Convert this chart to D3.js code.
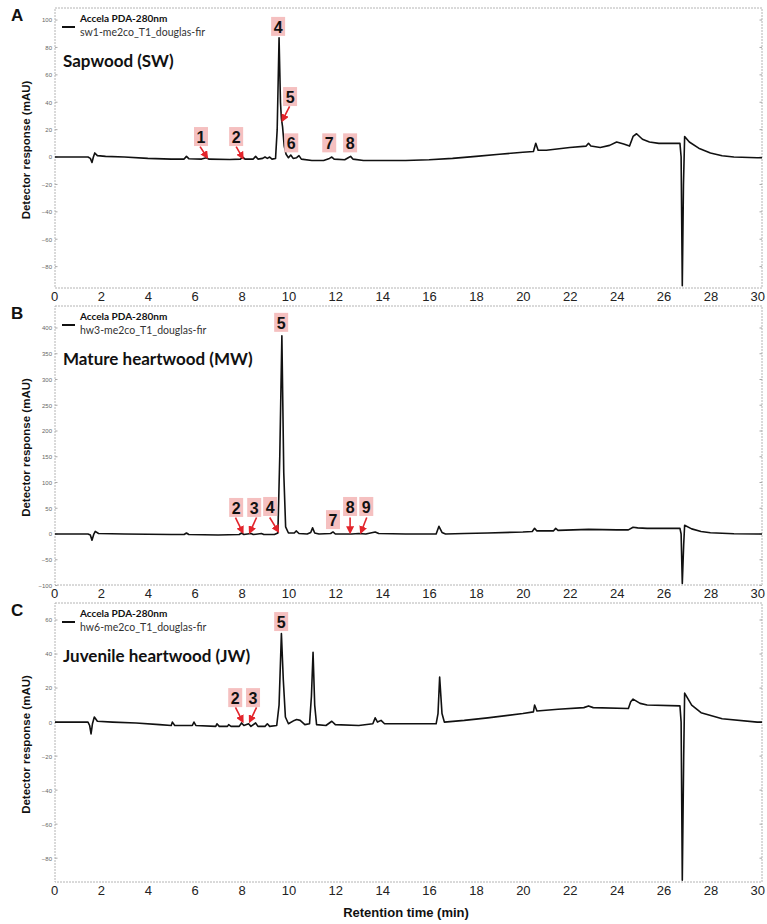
<!DOCTYPE html>
<html>
<head>
<meta charset="utf-8">
<script src="https://cdn.jsdelivr.net/npm/d3@7"></script>
<style>
  body { margin: 0; background: #fff; }
  svg { display: block; }
</style>
</head>
<body>
<div id="chart"></div>
<script>
// chromatogram traces, [retention time (min), response (mAU)]
const traceSW = [[0,0],[1.45,0],[1.55,-1],[1.62,-4],[1.68,0],[1.74,3],[1.85,1],[2.2,0.5],[3,0],[4,-1],[5,-1.5],[5.55,-1.5],[5.65,0.5],[5.75,-1.2],[6.3,-1.5],[6.5,-0.5],[6.6,-1.5],[7.5,-1.8],[7.95,-1.5],[8.05,0],[8.15,-1.5],[8.5,-1.5],[8.6,0.5],[8.7,-1.5],[8.9,-1],[9.0,0],[9.1,-1],[9.2,0],[9.3,-1.5],[9.45,-1],[9.52,20],[9.6,87],[9.66,40],[9.7,28],[9.75,22],[9.82,8],[9.9,2],[10.0,-0.5],[10.1,1.5],[10.2,-1],[10.35,-0.5],[10.45,1],[10.55,-1.5],[11,-2.5],[11.5,-2.5],[11.75,-1],[11.85,0],[11.95,-1.5],[12.4,-2],[12.55,-0.5],[12.65,0.5],[12.75,-1.5],[13.2,-2.5],[14,-2.5],[15,-2.5],[16,-2],[17,-1],[18,0.5],[19,2],[20,3.5],[20.45,4],[20.55,10],[20.65,5],[21,5],[22,7],[22.7,8],[22.8,10],[22.9,8],[23.3,7],[23.7,8.5],[24,11],[24.3,9.5],[24.55,8],[24.7,15],[24.85,17],[25.1,13],[25.4,11],[25.8,10],[26.7,10],[26.75,0],[26.8,-94],[26.85,-20],[26.9,15],[27.1,11],[27.5,6.5],[28,3],[28.5,1],[29,0],[30,-0.5],[30.2,-0.5]];

const traceMW = [[0,0],[1.45,0],[1.55,-2],[1.62,-12],[1.7,0],[1.76,5],[1.9,1],[3,0],[5,-1],[5.55,-1],[5.65,2],[5.75,-1],[7,-2],[7.9,-1],[8.0,2],[8.1,-1],[8.4,1],[8.5,-1],[8.85,1],[8.95,-1],[9.4,-1],[9.55,2],[9.63,150],[9.72,385],[9.8,120],[9.88,14],[10.0,2],[10.25,2],[10.33,6],[10.45,1],[10.8,0],[10.95,3],[11.03,12],[11.12,2],[11.3,0],[11.8,1],[11.9,4],[12,0],[12.7,0],[13,1],[13.3,0],[13.7,4],[13.85,1],[15,0],[16.3,0],[16.42,15],[16.55,3],[16.7,0],[17.5,1],[18.5,2],[20,4],[20.4,5],[20.5,11],[20.6,6],[21.3,6],[21.4,11],[21.5,7],[22.8,9],[24,8],[24.5,8],[24.7,13],[24.9,12],[25.3,11],[26.7,11],[26.75,0],[26.8,-96],[26.86,-20],[26.9,17],[27.2,10],[27.6,5],[28,2.5],[29,0.5],[30,0],[30.2,0]];

const traceJW = [[0,0],[1.45,0],[1.52,-2],[1.58,-7],[1.64,-1],[1.72,3],[1.85,0.5],[2.5,0],[3.5,-0.5],[4.5,-1.5],[5,-2],[5.05,0],[5.15,-2],[5.9,-2],[5.97,0],[6.05,-2],[6.9,-2.5],[6.95,-1],[7.05,-2.5],[7.4,-2.5],[7.45,-1.5],[7.55,-2.5],[7.9,-2.5],[8.0,-0.5],[8.1,-2],[8.3,-1],[8.4,-2.5],[8.6,-0.5],[8.7,-2.5],[9.0,-2.5],[9.1,-1],[9.2,-2.5],[9.5,-2],[9.6,10],[9.7,52],[9.78,25],[9.87,3],[10.0,-1],[10.25,1],[10.35,1.5],[10.5,1],[10.7,-1.5],[10.9,-1],[10.98,15],[11.05,41],[11.12,10],[11.2,-1.5],[11.6,-2],[11.85,0.5],[12.0,-1.5],[13,-2],[13.6,-1],[13.7,2.5],[13.8,0],[13.95,1],[14.1,-1],[15,-1],[16.3,-1],[16.38,5],[16.45,26.5],[16.55,5],[16.65,0],[17.5,1],[18.5,2.5],[20,5],[20.45,6],[20.5,10],[20.6,6.5],[21.5,7.5],[22.6,8.5],[22.8,9.5],[23,8.5],[24.5,8],[24.6,12],[24.7,13.5],[25,11],[25.3,10],[26.7,9.5],[26.75,0],[26.8,-93],[26.86,-20],[26.9,17],[27.2,10],[27.6,5.5],[28.5,2],[30,0],[30.2,0]];

// peak labels: [label, t, response, arrow tail t, tail response, arrow tip t, tip response]
const peaksSW = [["1",6.27,14.6,6.23,7.6,6.52,0],["2",7.77,14.6,7.77,7.6,8.04,-0.5],["4",9.56,95],["5",10.07,43.8,10.05,37,9.75,27],["6",10.12,10],["7",11.74,10],["8",12.63,10]];
const peaksMW = [["2",7.77,50.6,7.74,32,8.04,4],["3",8.54,50.6,8.64,32,8.36,4],["4",9.22,52.5,9.2,32,9.55,6],["5",9.69,410],["7",11.9,27],["8",12.63,52.5,12.63,32,12.63,4],["9",13.32,52.5,13.34,32,13.1,4]];
const peaksJW = [["5",9.69,58.8],["2",7.73,14.1,7.74,8.6,8.04,0.6],["3",8.49,14.1,8.64,8.6,8.36,0.6]];

const xTickValues = [0,2,4,6,8,10,12,14,16,18,20,22,24,26,28,30];
const yTicksSW = [-80,-60,-40,-20,0,20,40,60,80,100];
const yTicksMW = [-100,-50,0,50,100,150,200,250,300,350,400];
const yTicksJW = [-80,-60,-40,-20,0,20,40,60];

const panels = [
  {letter:"A", title:"Sapwood (SW)", sample:"sw1-me2co_T1_douglas-fir", trace:traceSW, peaks:peaksSW, yTicks:yTicksSW, yDomain:[-95.6,108.8], top:8, bottom:288},
  {letter:"B", title:"Mature heartwood (MW)", sample:"hw3-me2co_T1_douglas-fir", trace:traceMW, peaks:peaksMW, yTicks:yTicksMW, yDomain:[-99,442.7], top:306, bottom:585},
  {letter:"C", title:"Juvenile heartwood (JW)", sample:"hw6-me2co_T1_douglas-fir", trace:traceJW, peaks:peaksJW, yTicks:yTicksJW, yDomain:[-94,70], top:603, bottom:882}
];

const width = 767, height = 924;
const left = 55, right = 762;

const svg = d3.select("#chart").append("svg")
  .attr("width", width)
  .attr("height", height);

svg.append("defs").append("marker")
  .attr("id", "arrow")
  .attr("viewBox", "0 0 10 10")
  .attr("refX", 7).attr("refY", 5)
  .attr("markerWidth", 5).attr("markerHeight", 5)
  .attr("orient", "auto")
  .append("path")
  .attr("d", "M0,0 L10,5 L0,10 z")
  .attr("fill", "#e3242b");

const x = d3.scaleLinear().domain([0, 30.2]).range([54, right]);

panels.forEach(p => {
  const y = d3.scaleLinear().domain(p.yDomain).range([p.bottom, p.top]);
  const g = svg.append("g");

  // frame
  g.append("rect")
    .attr("x", left).attr("y", p.top)
    .attr("width", right - left).attr("height", p.bottom - p.top)
    .attr("fill", "none")
    .attr("stroke", "#b4b4b4")
    .attr("stroke-dasharray", "2,1");

  // y axis, tiny labels
  const yAxis = g.append("g")
    .attr("transform", `translate(${left},0)`)
    .call(d3.axisLeft(y).tickValues(p.yTicks).tickSize(0).tickPadding(3));
  yAxis.select(".domain").remove();
  yAxis.selectAll("text")
    .attr("font-family", "Liberation Sans, Arial, sans-serif")
    .attr("font-size", 6)
    .attr("fill", "#666");

  // small tick marks inside the frame on both sides
  g.selectAll(".tl").data(p.yTicks).enter().append("line")
    .attr("x1", left).attr("x2", left + 2.5)
    .attr("y1", d => y(d)).attr("y2", d => y(d))
    .attr("stroke", "#aaa");
  g.selectAll(".tr").data(p.yTicks).enter().append("line")
    .attr("x1", right - 2.5).attr("x2", right)
    .attr("y1", d => y(d)).attr("y2", d => y(d))
    .attr("stroke", "#aaa");

  // x axis labels below each panel
  const xAxis = g.append("g")
    .attr("transform", `translate(0,${p.bottom})`)
    .call(d3.axisBottom(x).tickValues(xTickValues).tickSize(0).tickPadding(4));
  xAxis.select(".domain").remove();
  xAxis.selectAll("text")
    .attr("font-family", "Liberation Sans, Arial, sans-serif")
    .attr("font-size", 13)
    .attr("fill", "#222");

  // trace
  const clipId = "clip" + p.letter;
  g.append("clipPath").attr("id", clipId).append("rect")
    .attr("x", left).attr("y", p.top)
    .attr("width", right - left).attr("height", p.bottom - p.top);

  g.append("path")
    .datum(p.trace)
    .attr("clip-path", `url(#${clipId})`)
    .attr("fill", "none")
    .attr("stroke", "#111")
    .attr("stroke-width", 1.6)
    .attr("stroke-linejoin", "round")
    .attr("d", d3.line().x(d => x(d[0])).y(d => y(d[1])));

  // legend
  g.append("line")
    .attr("x1", 62).attr("x2", 75)
    .attr("y1", p.top + 19).attr("y2", p.top + 19)
    .attr("stroke", "#111").attr("stroke-width", 2);
  g.append("text")
    .attr("x", 80).attr("y", p.top + 14)
    .attr("font-family", "Lato, sans-serif")
    .attr("font-weight", "bold")
    .attr("font-size", 10)
    .attr("fill", "#111")
    .text("Accela PDA-280nm");
  g.append("text")
    .attr("x", 80).attr("y", p.top + 28)
    .attr("font-family", "Lato, sans-serif")
    .attr("font-size", 10.5)
    .attr("fill", "#333")
    .text(p.sample);

  g.append("text")
    .attr("x", 63).attr("y", p.top + 59)
    .attr("font-family", "Lato, sans-serif")
    .attr("font-weight", "bold")
    .attr("font-size", 17)
    .attr("fill", "#111")
    .text(p.title);

  // panel letter
  svg.append("text")
    .attr("x", 11).attr("y", p.top + 13)
    .attr("font-family", "Liberation Sans, Arial, sans-serif")
    .attr("font-weight", "bold")
    .attr("font-size", 17)
    .attr("fill", "#111")
    .text(p.letter);

  // y axis title
  svg.append("text")
    .attr("transform", `translate(30,${(p.top + p.bottom) / 2 + 2}) rotate(-90)`)
    .attr("text-anchor", "middle")
    .attr("font-family", "Liberation Sans, Arial, sans-serif")
    .attr("font-weight", "bold")
    .attr("font-size", 11.5)
    .attr("fill", "#111")
    .text("Detector response (mAU)");

  // arrows
  g.selectAll(".arrow").data(p.peaks.filter(d => d.length > 3)).enter().append("line")
    .attr("x1", d => x(d[3])).attr("y1", d => y(d[4]))
    .attr("x2", d => x(d[5])).attr("y2", d => y(d[6]))
    .attr("stroke", "#e3242b")
    .attr("stroke-width", 1.6)
    .attr("marker-end", "url(#arrow)");

  // peak label boxes
  const lab = g.selectAll(".peak").data(p.peaks).enter().append("g")
    .attr("transform", d => `translate(${x(d[1])},${y(d[2])})`);
  lab.append("rect")
    .attr("x", -7).attr("y", -10)
    .attr("width", 14).attr("height", 19)
    .attr("fill", "#f5c0c0");
  lab.append("text")
    .attr("text-anchor", "middle")
    .attr("y", 6)
    .attr("font-family", "Liberation Sans, Arial, sans-serif")
    .attr("font-weight", "bold")
    .attr("font-size", 16)
    .attr("fill", "#111")
    .text(d => d[0]);
});

svg.append("text")
  .attr("x", 406).attr("y", 917)
  .attr("text-anchor", "middle")
  .attr("font-family", "Liberation Sans, Arial, sans-serif")
  .attr("font-weight", "bold")
  .attr("font-size", 13)
  .attr("fill", "#111")
  .text("Retention time (min)");
</script>
</body>
</html>
